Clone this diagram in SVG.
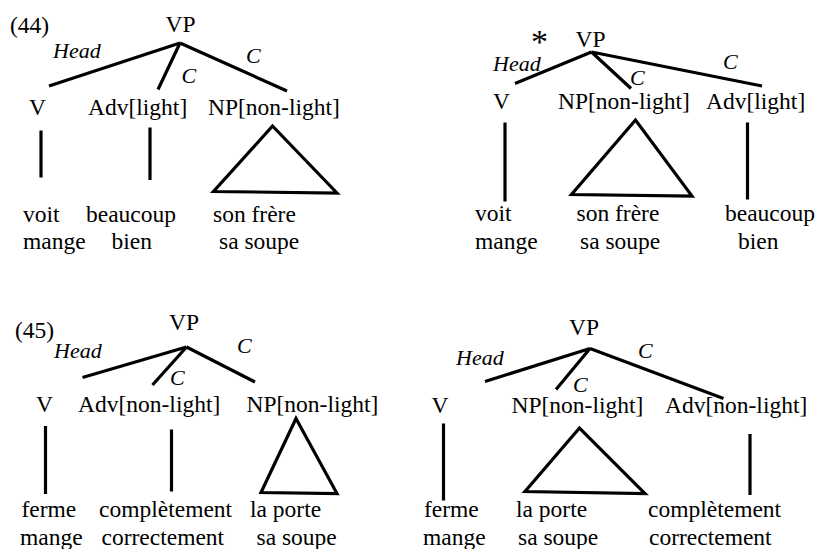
<svg xmlns="http://www.w3.org/2000/svg" width="818" height="549" viewBox="0 0 818 549">
<style>
text{font-family:"Liberation Serif","Times New Roman",serif;font-size:23.5px;fill:#000}
.it{font-style:italic;font-size:22px}
.ln{stroke:#000;stroke-width:3.2;fill:none}
</style>
<rect width="818" height="549" fill="#fff"/>
<!-- Tree 44 left -->
<g id="t44a">
<text x="10" y="33">(44)</text>
<g id="t44a-vp"><text x="165.5" y="32">VP</text></g>
<g id="t44a-v"><text x="29" y="115">V</text></g>
<g id="t44a-adv"><text x="88" y="115">Adv[light]</text></g>
<g id="t44a-np"><text x="208" y="115">NP[non-light]</text></g>
<g id="t44a-leaf1"><text x="23" y="221.5">voit</text><text x="23" y="249">mange</text></g>
<g id="t44a-leaf2"><text x="86" y="221.5">beaucoup</text><text x="111.5" y="249">bien</text></g>
<g id="t44a-leaf3"><text x="213" y="221.5">son frère</text><text x="219" y="249">sa soupe</text></g>
<g id="t44a-conn">
<path class="ln" d="M180,43 L49,86 M180,43 L158,89.5 M180,43 L287,91"/>
<path class="ln" d="M41,130.5 V177.5 M150,127.5 V180"/>
<path class="ln" d="M272.5,126 L213.5,191.5 L337,193 Z"/>
<text class="it" x="53" y="58">Head</text>
<text class="it" x="181.5" y="83">C</text>
<text class="it" x="246" y="62.5">C</text>
</g>
</g>
<!-- Tree 44 right -->
<g id="t44b">
<text x="531" y="53" style="font-size:34px">*</text>
<g id="t44b-vp"><text x="575.5" y="46.5">VP</text></g>
<g id="t44b-v"><text x="493" y="108.5">V</text></g>
<g id="t44b-np"><text x="558" y="108.5">NP[non-light]</text></g>
<g id="t44b-adv"><text x="706" y="108.5">Adv[light]</text></g>
<g id="t44b-leaf1"><text x="475" y="220.5">voit</text><text x="475" y="249">mange</text></g>
<g id="t44b-leaf2"><text x="576.5" y="220.5">son frère</text><text x="580" y="249">sa soupe</text></g>
<g id="t44b-leaf3"><text x="725" y="220.5">beaucoup</text><text x="738" y="249">bien</text></g>
<g id="t44b-conn">
<path class="ln" d="M591.5,52 L515,83.5 M591.5,52 L631,88.5 M591.5,52 L762,86"/>
<path class="ln" d="M505,122.5 V201.5 M747.5,122.5 V199.5"/>
<path class="ln" d="M635.5,120 L571.5,194.5 L692,196 Z"/>
<text class="it" x="493" y="71">Head</text>
<text class="it" x="630" y="85">C</text>
<text class="it" x="723" y="69">C</text>
</g>
</g>
<!-- Tree 45 left -->
<g id="t45a">
<text x="15" y="338">(45)</text>
<g id="t45a-vp"><text x="169" y="330">VP</text></g>
<g id="t45a-v"><text x="36" y="411.5">V</text></g>
<g id="t45a-adv"><text x="78" y="411.5">Adv[non-light]</text></g>
<g id="t45a-np"><text x="246.5" y="411.5">NP[non-light]</text></g>
<g id="t45a-leaf1"><text x="21.5" y="516.5">ferme</text><text x="20" y="545">mange</text></g>
<g id="t45a-leaf2"><text x="99" y="516.5">complètement</text><text x="101.5" y="545">correctement</text></g>
<g id="t45a-leaf3"><text x="250" y="516.5">la porte</text><text x="256.5" y="545">sa soupe</text></g>
<g id="t45a-conn">
<path class="ln" d="M186.5,347 L82.5,377.5 M186.5,347 L152.5,385 M186.5,347 L255,382"/>
<path class="ln" d="M45.5,426 V494 M171.5,429.5 V491.5"/>
<path class="ln" d="M296,418.5 L261,492.5 L337,493.5 Z"/>
<text class="it" x="54" y="358">Head</text>
<text class="it" x="170" y="385">C</text>
<text class="it" x="237" y="353">C</text>
</g>
</g>
<!-- Tree 45 right -->
<g id="t45b">
<g id="t45b-vp"><text x="569" y="335">VP</text></g>
<g id="t45b-v"><text x="431.5" y="413">V</text></g>
<g id="t45b-np"><text x="511.5" y="413">NP[non-light]</text></g>
<g id="t45b-adv"><text x="665" y="413">Adv[non-light]</text></g>
<g id="t45b-leaf1"><text x="424" y="516.5">ferme</text><text x="423" y="545">mange</text></g>
<g id="t45b-leaf2"><text x="516" y="516.5">la porte</text><text x="518" y="545">sa soupe</text></g>
<g id="t45b-leaf3"><text x="648" y="516.5">complètement</text><text x="649" y="545">correctement</text></g>
<g id="t45b-conn">
<path class="ln" d="M590,348.5 L485,381.5 M590,348.5 L556,389.5 M590,348.5 L723.5,398.5"/>
<path class="ln" d="M443.5,423.5 V500.5 M750,434 V495"/>
<path class="ln" d="M579.5,428 L525,491.5 L645,493.5 Z"/>
<text class="it" x="456" y="365">Head</text>
<text class="it" x="573" y="391.5">C</text>
<text class="it" x="638" y="358">C</text>
</g>
</g>
</svg>
